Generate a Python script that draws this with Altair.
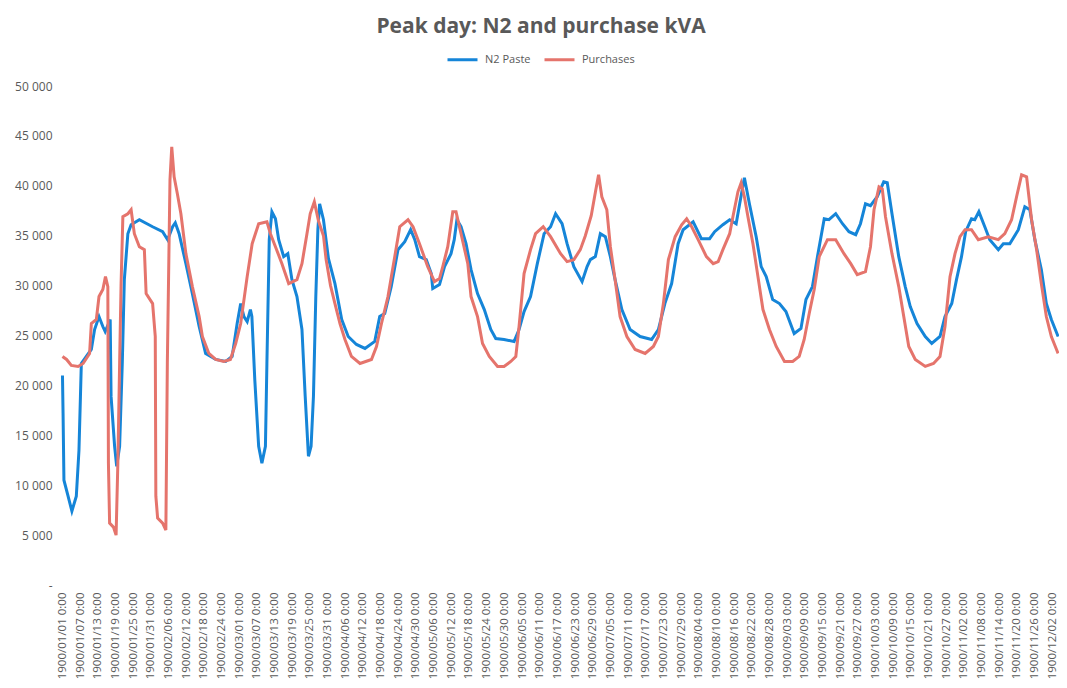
import altair as alt
import pandas as pd

# ---------------- data ----------------
tick_labels = [
    "1900/01/01 0:00", "1900/01/07 0:00", "1900/01/13 0:00", "1900/01/19 0:00",
    "1900/01/25 0:00", "1900/01/31 0:00", "1900/02/06 0:00", "1900/02/12 0:00",
    "1900/02/18 0:00", "1900/02/24 0:00", "1900/03/01 0:00", "1900/03/07 0:00",
    "1900/03/13 0:00", "1900/03/19 0:00", "1900/03/25 0:00", "1900/03/31 0:00",
    "1900/04/06 0:00", "1900/04/12 0:00", "1900/04/18 0:00", "1900/04/24 0:00",
    "1900/04/30 0:00", "1900/05/06 0:00", "1900/05/12 0:00", "1900/05/18 0:00",
    "1900/05/24 0:00", "1900/05/30 0:00", "1900/06/05 0:00", "1900/06/11 0:00",
    "1900/06/17 0:00", "1900/06/23 0:00", "1900/06/29 0:00", "1900/07/05 0:00",
    "1900/07/11 0:00", "1900/07/17 0:00", "1900/07/23 0:00", "1900/07/29 0:00",
    "1900/08/04 0:00", "1900/08/10 0:00", "1900/08/16 0:00", "1900/08/22 0:00",
    "1900/08/28 0:00", "1900/09/03 0:00", "1900/09/09 0:00", "1900/09/15 0:00",
    "1900/09/21 0:00", "1900/09/27 0:00", "1900/10/03 0:00", "1900/10/09 0:00",
    "1900/10/15 0:00", "1900/10/21 0:00", "1900/10/27 0:00", "1900/11/02 0:00",
    "1900/11/08 0:00", "1900/11/14 0:00", "1900/11/20 0:00", "1900/11/26 0:00",
    "1900/12/02 0:00",
]
tick_days = [1, 7, 13, 19, 25, 31, 37, 43, 49, 55, 61, 67, 73, 79, 85, 91, 97,
             103, 109, 115, 121, 127, 133, 139, 145, 151, 157, 163, 169, 175,
             181, 187, 193, 199, 205, 211, 217, 223, 229, 235, 241, 247, 253,
             259, 265, 271, 277, 283, 289, 295, 301, 307, 313, 319, 325, 331, 337]

series_names = ["N2 Paste", "Purchases"]

n2_day = [1.0, 1.2, 1.5, 2.9, 4.2, 5.7, 6.6, 7.1, 7.4, 9.1, 10.8, 11.9, 13.4,
          14.7, 15.5, 17.2, 17.5, 18.7, 19.4, 20.4, 21.3, 22.0, 23.2, 24.3,
          27.1, 31.6, 35.0, 36.7, 38.4, 39.3, 40.6, 42.9, 45.1, 47.4, 49.6,
          53.0, 56.4, 58.6, 60.3, 61.5, 62.6, 63.7, 64.8, 65.3, 66.3, 67.6,
          68.7, 69.9, 70.4, 71.2, 72.1, 73.3, 74.4, 76.1, 77.5, 78.9, 80.6,
          82.3, 83.4, 84.5, 85.4, 86.2, 87.0, 87.7, 88.3, 89.6, 91.3, 93.5,
          95.8, 98.0, 100.8, 103.7, 107.0, 108.7, 110.4, 112.6, 114.9, 117.2,
          119.2, 120.6, 122.2, 124.5, 126.2, 126.7, 129.0, 130.7, 132.9, 134.0,
          134.9, 136.3, 138.0, 139.7, 141.9, 144.2, 146.4, 148.1, 150.9, 154.3,
          156.0, 157.7, 159.9, 162.2, 164.5, 166.7, 168.4, 170.6, 172.3, 174.6,
          177.4, 179.1, 180.2, 181.9, 183.6, 185.3, 187.0, 188.6, 190.9, 193.7,
          197.1, 201.0, 203.3, 205.5, 207.8, 210.0, 211.7, 215.1, 217.9, 220.7,
          222.4, 225.2, 227.5, 229.7, 230.9, 232.5, 234.2, 236.5, 238.2, 239.9,
          242.1, 244.4, 246.6, 249.4, 251.7, 253.4, 255.6, 257.3, 259.6, 261.2,
          263.5, 265.8, 268.0, 270.3, 271.9, 273.6, 275.3, 277.6, 279.8, 281.0,
          282.6, 284.9, 287.1, 288.8, 291.1, 293.9, 296.1, 298.9, 300.6, 302.9,
          304.5, 306.2, 307.6, 309.6, 310.7, 312.1, 314.1, 315.8, 318.7, 320.4,
          322.6, 325.5, 327.7, 329.4, 331.1, 333.3, 335.0, 336.7, 339.0]
n2_kva = [21000, 17200, 10500, 8900, 7400, 8900, 13500, 18900, 22200, 22900,
          23600, 25600, 26900, 25900, 25400, 26600, 18900, 13900, 11900, 13900,
          22200, 30600, 35200, 36100, 36600, 35900, 35400, 34600, 35900, 36300,
          35200, 32200, 29200, 25900, 23200, 22600, 22400, 22900, 26200, 28200,
          26900, 26400, 27600, 26900, 20500, 13900, 12200, 13900, 22200, 34600,
          37400, 36700, 34600, 32900, 33200, 30600, 28900, 25600, 18900, 12900,
          13900, 18900, 28900, 35600, 38200, 36600, 32700, 30200, 26600, 24900,
          24100, 23700, 24400, 26900, 27200, 29900, 33600, 34400, 35600, 34600,
          32900, 32600, 31200, 29700, 30100, 31900, 33200, 34600, 36600, 35900,
          34200, 31600, 29200, 27600, 25600, 24700, 24600, 24400, 25600, 27400,
          28900, 32200, 35200, 35900, 37200, 36200, 34200, 31900, 30400, 31900,
          32600, 32900, 35200, 34900, 32900, 30600, 27600, 25600, 24900, 24600,
          25600, 28200, 30200, 34200, 35600, 36400, 34700, 34700, 35400, 36100,
          36600, 36200, 38200, 40800, 38200, 34900, 31900, 30900, 28600, 28200,
          27400, 25200, 25700, 28600, 29900, 32900, 36700, 36600, 37200, 36200,
          35400, 35100, 36200, 38200, 38000, 38900, 40400, 40300, 37200, 32900,
          29900, 27900, 26200, 24900, 24200, 24900, 26900, 28200, 30600, 32900,
          35400, 36700, 36600, 37400, 35900, 34600, 33600, 34200, 34200, 35600,
          37900, 37600, 34600, 31600, 28200, 26600, 24900]

pur_day = [1.0, 2.4, 4.0, 6.3, 8.0, 10.2, 10.8, 12.5, 13.4, 14.7, 15.6, 16.4,
           16.6, 17.0, 18.3, 19.2, 19.8, 20.4, 20.9, 21.5, 23.2, 24.3, 25.4,
           27.1, 28.8, 29.4, 31.6, 32.5, 32.7, 33.3, 35.0, 36.1, 36.6, 37.5,
           38.1, 38.9, 40.0, 41.2, 42.9, 45.1, 47.4, 48.5, 50.7, 53.0, 55.8,
           58.0, 59.8, 61.5, 63.7, 65.4, 67.6, 70.4, 71.6, 73.3, 75.5, 77.8,
           80.6, 82.3, 84.0, 85.1, 86.5, 87.9, 89.6, 90.5, 92.0, 93.5, 95.2,
           96.9, 99.1, 102.0, 105.9, 107.6, 109.3, 111.5, 113.8, 115.5, 118.3,
           120.0, 122.2, 125.0, 127.3, 129.0, 130.1, 131.8, 133.5, 134.6, 136.3,
           138.6, 139.7, 141.9, 143.6, 145.9, 148.7, 150.9, 153.2, 154.9, 156.0,
           157.7, 159.9, 161.6, 164.2, 166.7, 170.1, 172.3, 174.6, 176.8, 178.5,
           180.5, 182.0, 183.0, 184.1, 185.8, 187.0, 188.6, 190.3, 192.6, 195.4,
           198.8, 201.6, 203.3, 205.0, 206.7, 209.0, 211.2, 212.9, 214.6, 216.8,
           219.6, 221.9, 223.6, 225.2, 227.5, 228.6, 230.3, 231.4, 232.5, 233.7,
           235.4, 237.1, 238.8, 241.0, 243.3, 246.1, 248.9, 251.1, 252.8, 254.5,
           256.2, 257.9, 260.7, 263.5, 266.3, 268.6, 270.8, 273.6, 275.3, 276.5,
           278.2, 279.3, 280.4, 282.6, 284.9, 286.6, 288.3, 290.5, 293.9, 296.7,
           298.9, 300.6, 302.3, 304.0, 305.7, 307.4, 309.6, 311.9, 315.3, 318.7,
           320.9, 323.2, 324.9, 326.6, 328.3, 330.0, 331.7, 333.3, 335.0, 336.7,
           339.0]
pur_kva = [22900, 22600, 22000, 21900, 22200, 23200, 26200, 26600, 28900, 29600,
           30900, 29900, 12200, 6200, 5800, 5000, 12200, 22200, 30200, 36900,
           37200, 37600, 35200, 33900, 33600, 29200, 28200, 24900, 8900, 6700,
           6200, 5500, 22200, 40600, 43900, 40900, 39200, 37200, 33200, 29900,
           26900, 24900, 23200, 22600, 22400, 22600, 24200, 26200, 30900, 34200,
           36200, 36400, 35200, 33900, 32200, 30200, 30600, 32200, 35200, 37200,
           38400, 36500, 35000, 32600, 30000, 28200, 26200, 24600, 22900, 22200,
           22600, 23900, 26200, 28900, 32900, 35900, 36600, 35900, 34200, 31900,
           30400, 30700, 31900, 33900, 37400, 37400, 35200, 32200, 28900, 26900,
           24200, 22900, 21900, 21900, 22400, 22900, 25900, 31200, 33600, 35200,
           35900, 34900, 33200, 32400, 32600, 33600, 35000, 37000, 39500, 41100,
           38900, 37600, 33900, 30600, 26900, 24900, 23600, 23200, 23900, 24900,
           28200, 32600, 34900, 36100, 36700, 35900, 34600, 32900, 32200, 32400,
           33600, 35200, 36900, 39400, 40300, 38900, 36900, 34200, 30900, 27600,
           25600, 23900, 22400, 22400, 22900, 24600, 27200, 29600, 32900, 34600,
           34600, 33200, 32200, 31100, 31400, 33900, 37600, 39900, 39700, 36900,
           33200, 29900, 26900, 23900, 22600, 21900, 22200, 22900, 25900, 30900,
           33200, 34900, 35600, 35600, 34600, 34900, 34600, 35200, 36600, 38900,
           41100, 40900, 36600, 33600, 30200, 26900, 24900, 23200]

# ---------------- chart ----------------
series_colors = ["#1585d8", "#e5746c"]
text_color = "#595959"

df_n2 = pd.DataFrame({"day": n2_day, "kva": n2_kva, "series": series_names[0]})
df_pur = pd.DataFrame({"day": pur_day, "kva": pur_kva, "series": series_names[1]})

label_array = "[" + ",".join("'" + s + "'" for s in tick_labels) + "]"

x_enc = alt.X(
    "day:Q",
    scale=alt.Scale(domain=[0.5, 339.3], nice=False, zero=False),
    axis=alt.Axis(
        values=tick_days,
        labelExpr=label_array + "[floor((datum.value - 1) / 6)]",
        labelAngle=270, labelAlign="right", labelBaseline="middle",
        labelPadding=7, ticks=False, domain=False, grid=False,
        labelOverlap=False, labelFlush=False, labelBound=False,
        title=None, labelFont="Open Sans", labelFontSize=11.5,
        labelColor=text_color,
    ),
)
y_enc = alt.Y(
    "kva:Q",
    scale=alt.Scale(domain=[0, 50000], nice=False),
    axis=alt.Axis(
        values=list(range(0, 50001, 5000)),
        labelExpr="datum.value == 0 ? '-\u2003\u2003\u2003' : replace(format(datum.value, ','), ',', ' ')",
        ticks=False, domain=False, grid=False, labelPadding=9, title=None,
        labelFont="Open Sans", labelFontSize=12, labelColor=text_color,
    ),
)
color_enc = alt.Color(
    "series:N",
    scale=alt.Scale(domain=series_names, range=series_colors),
    legend=alt.Legend(
        title=None, orient="none", legendX=385, legendY=-43,
        direction="horizontal", symbolType="stroke", symbolSize=900,
        symbolStrokeWidth=3, labelFont="Open Sans", labelFontSize=11,
        labelColor=text_color, columnPadding=7, labelOffset=6, padding=0,
    ),
)

line_n2 = alt.Chart(df_n2).mark_line(strokeWidth=3).encode(x=x_enc, y=y_enc, color=color_enc)
line_pur = alt.Chart(df_pur).mark_line(strokeWidth=3).encode(x=x_enc, y=y_enc, color=color_enc)

chart = (
    alt.layer(line_n2, line_pur)
    .properties(
        width=998, height=499,
        padding={"left": 53, "top": 78, "right": 0, "bottom": 95},
        autosize=alt.AutoSizeParams(type="none"),
        title=alt.TitleParams(
            "Peak day: N2 and purchase kVA", font="Open Sans", fontSize=21,
            fontWeight="bold", color=text_color, anchor="middle", dx=-19, dy=-2,
        ),
    )
    .configure_view(stroke=None)
)

chart.save("out.html", embed_options={"renderer": "svg", "actions": False})
